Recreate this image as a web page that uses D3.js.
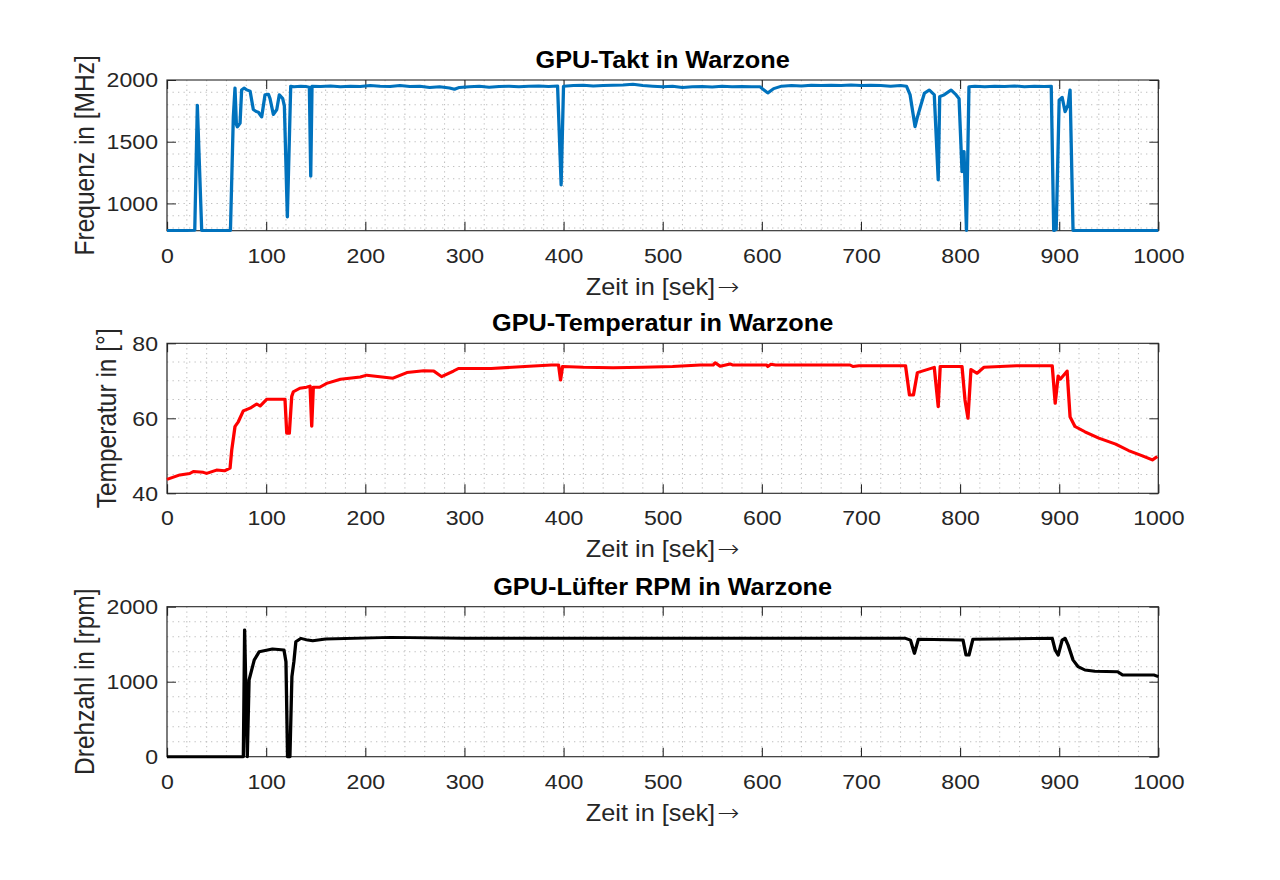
<!DOCTYPE html>
<html>
<head>
<meta charset="utf-8">
<script src="https://cdn.jsdelivr.net/npm/d3@7"></script>
<style>
  body { margin: 0; background: #fff; }
  svg { display: block; }
  text { font-family: "Liberation Sans", Arial, Helvetica, sans-serif; fill: #262626; }
</style>
</head>
<body>
<svg id="chart"></svg>
<script>
// GPU-Takt (MHz)
const taktTime = [0, 10, 20, 28, 30.6, 35, 45, 55, 64, 66.9, 68.6, 70, 71, 73.7, 75.3, 78, 80.4, 83.8, 87.1, 90, 92.1, 95.5, 98.9, 102.3, 103.9, 107.3, 110.7, 113.3, 116.7, 118.4, 121.4, 124.8, 128, 135, 140, 143.6, 145, 146.3, 155, 165, 175, 185, 195, 205, 215, 225, 235, 245, 255, 265, 275, 285, 290, 295, 305, 315, 325, 335, 345, 355, 365, 375, 385, 394, 397.6, 400, 410, 420, 430, 440, 450, 460, 470, 480, 490, 500, 510, 520, 530, 540, 550, 560, 570, 580, 590, 598, 606, 612, 620, 630, 640, 650, 660, 670, 680, 690, 700, 710, 720, 730, 740, 746, 749.6, 754.6, 757, 759.6, 761, 764, 769, 774, 778, 779.5, 784, 791, 796, 799, 802, 804, 806.5, 809, 815, 825, 835, 845, 855, 865, 875, 885, 892, 894.5, 897, 900, 903, 906, 909, 911, 914, 930, 950, 970, 990, 1000];
const taktMHz = [780, 781, 780, 782, 1795, 780, 781, 780, 781, 1700, 1935, 1640, 1620, 1650, 1920, 1935, 1920, 1910, 1760, 1745, 1740, 1700, 1880, 1885, 1850, 1720, 1760, 1880, 1850, 1790, 890, 1950, 1945, 1950, 1948, 1942, 1220, 1950, 1948, 1952, 1945, 1950, 1948, 1955, 1950, 1948, 1955, 1947, 1950, 1940, 1945, 1935, 1925, 1940, 1945, 1950, 1942, 1948, 1950, 1945, 1950, 1952, 1948, 1952, 1150, 1950, 1955, 1958, 1952, 1955, 1957, 1960, 1965, 1955, 1950, 1945, 1950, 1940, 1945, 1948, 1944, 1950, 1946, 1948, 1945, 1946, 1895, 1930, 1950, 1955, 1952, 1958, 1955, 1957, 1955, 1960, 1955, 1958, 1955, 1950, 1955, 1950, 1880, 1622, 1700, 1773, 1810, 1892, 1919, 1880, 1190, 1865, 1880, 1919, 1880, 1850, 1257, 1420, 780, 1946, 1950, 1945, 1950, 1948, 1952, 1946, 1950, 1948, 1950, 780, 790, 1838, 1860, 1743, 1800, 1919, 780, 780, 781, 780, 780, 780];

// GPU-Temperatur (°)
const tempTime = [0, 13, 23, 26.6, 36.6, 40, 50, 58, 63.6, 65.3, 68.6, 72, 77, 83.8, 90.5, 94, 100.6, 119, 120.8, 123.4, 125.8, 127.5, 134, 140.9, 144.3, 146, 147.6, 154, 161, 175, 195, 201.5, 228, 242, 259, 269, 277, 289, 294, 327, 361, 388, 395, 397, 399, 420, 450, 480, 510, 538, 551, 553, 558, 568, 571, 605, 606, 609, 614, 689, 692, 698, 745, 749, 753, 757, 774, 778, 780, 802, 805, 808, 811, 817, 824, 857, 893, 896, 899, 901, 908, 911, 916, 926, 940, 957, 970, 984, 994, 999];
const tempDeg = [43.7, 44.9, 45.3, 45.8, 45.6, 45.3, 46.2, 46.0, 46.7, 51.5, 57.8, 59.1, 62.0, 62.7, 63.8, 63.3, 65.1, 65.1, 56.0, 56.0, 65.8, 67.1, 68.0, 68.3, 68.6, 57.9, 68.3, 68.3, 69.3, 70.4, 71.0, 71.5, 70.7, 72.2, 72.7, 72.6, 71.1, 72.6, 73.3, 73.3, 73.8, 74.2, 74.2, 70.2, 73.8, 73.6, 73.5, 73.6, 73.8, 74.2, 74.2, 74.8, 73.9, 74.5, 74.2, 74.2, 73.8, 74.4, 74.2, 74.2, 73.8, 74.0, 74.0, 66.2, 66.2, 72.2, 73.6, 63.1, 73.8, 73.8, 64.9, 60.0, 73.0, 72.0, 73.6, 74.0, 74.0, 64.0, 71.3, 70.4, 72.6, 60.4, 57.8, 56.4, 54.7, 53.1, 51.4, 50.0, 48.9, 49.8];

// GPU-Lüfter (rpm)
const rpmTime = [0, 40, 77, 78.3, 81, 82.8, 88, 93, 106.4, 118, 120, 121.6, 124, 126, 128, 130, 135, 142, 147, 160, 226, 300, 394, 460, 538, 745, 750, 754, 758, 803, 806, 809, 813, 893, 896, 899, 903, 906, 909, 914, 919, 926, 936, 959, 964, 996, 1000];
const rpmVal = [0, 0, 0, 1689, 0, 1023, 1289, 1400, 1435, 1422, 1267, 0, 0, 1067, 1267, 1533, 1578, 1555, 1547, 1570, 1591, 1580, 1578, 1580, 1578, 1578, 1555, 1378, 1567, 1555, 1355, 1355, 1567, 1578, 1422, 1355, 1555, 1578, 1490, 1289, 1200, 1156, 1140, 1133, 1089, 1089, 1067];

const xTicks = [0, 100, 200, 300, 400, 500, 600, 700, 800, 900, 1000];
const taktTicks = [1000, 1500, 2000];
const tempTicks = [40, 60, 80];
const rpmTicks = [0, 1000, 2000];

const titles = ['GPU-Takt in Warzone', 'GPU-Temperatur in Warzone', 'GPU-Lüfter RPM in Warzone'];
const yLabels = ['Frequenz in [MHz]', 'Temperatur in [°]', 'Drehzahl in [rpm]'];
const xLabel = 'Zeit in [sek]';

// text in the picture is a little wider than it is tall, so draw in a narrower
// coordinate space and stretch it out to 1280 wide
const STRETCH = 1.1;
const W = 1280 / STRETCH, H = 880;
const svg = d3.select('#chart')
  .attr('width', 1280).attr('height', 880)
  .attr('viewBox', `0 0 ${W} ${H}`)
  .attr('preserveAspectRatio', 'none');

const left = 167 / STRETCH, right = 1158.3 / STRETCH;
const x = d3.scaleLinear().domain([0, 1000]).range([left, right]);

const panels = [
  { top: 80, bottom: 230.7, domain: [779, 2000], ticks: taktTicks, minor: 100, t: taktTime, v: taktMHz, color: '#0072BD', labelX: 85 },
  { top: 343.3, bottom: 493.3, domain: [40, 80], ticks: tempTicks, minor: 5, t: tempTime, v: tempDeg, color: '#FF0000', labelX: 105 },
  { top: 606.7, bottom: 756.7, domain: [0, 2000], ticks: rpmTicks, minor: 200, t: rpmTime, v: rpmVal, color: '#000000', labelX: 85 },
];

const tickLen = 9;

panels.forEach((p, i) => {
  const y = d3.scaleLinear().domain(p.domain).range([p.bottom, p.top]);
  const g = svg.append('g');

  // dotted grid (major + minor)
  const gx = d3.range(20, 1000, 20);
  const gy = d3.range(Math.ceil(p.domain[0] / p.minor) * p.minor, p.domain[1], p.minor)
    .filter(d => d > p.domain[0] && d < p.domain[1]);
  g.append('g').selectAll('line').data(gx).join('line')
    .attr('x1', d => x(d)).attr('x2', d => x(d))
    .attr('y1', p.top).attr('y2', p.bottom)
    .attr('stroke', '#bfbfbf').attr('stroke-width', 0.95)
    .attr('stroke-dasharray', '1.3,3.5');
  g.append('g').selectAll('line').data(gy).join('line')
    .attr('x1', left).attr('x2', right)
    .attr('y1', d => y(d)).attr('y2', d => y(d))
    .attr('stroke', '#bfbfbf').attr('stroke-width', 1)
    .attr('stroke-dasharray', '1.2,3.8');

  // axes, ticks pointing inward on all sides
  const fmt = d3.format('d');
  const axB = g.append('g').attr('transform', `translate(0,${p.bottom})`)
    .call(d3.axisBottom(x).tickValues(xTicks).tickFormat(fmt).tickSizeInner(-tickLen).tickSizeOuter(0).tickPadding(17));
  const axT = g.append('g').attr('transform', `translate(0,${p.top})`)
    .call(d3.axisTop(x).tickValues(xTicks).tickSizeInner(-tickLen).tickSizeOuter(0).tickFormat(''));
  const axL = g.append('g').attr('transform', `translate(${left},0)`)
    .call(d3.axisLeft(y).tickValues(p.ticks).tickFormat(fmt).tickSizeInner(-tickLen / STRETCH).tickSizeOuter(0).tickPadding(8.2));
  const axR = g.append('g').attr('transform', `translate(${right},0)`)
    .call(d3.axisRight(y).tickValues(p.ticks).tickSizeInner(-tickLen / STRETCH).tickSizeOuter(0).tickFormat(''));
  [axB, axT, axL, axR].forEach(a => {
    a.attr('font-family', null).attr('font-size', 21);
    a.select('.domain').remove();
    a.selectAll('.tick line').attr('stroke', '#262626').attr('stroke-width', 1);
    a.selectAll('.tick text').attr('fill', '#262626');
  });

  g.append('rect')
    .attr('x', left).attr('y', p.top)
    .attr('width', right - left).attr('height', p.bottom - p.top)
    .attr('fill', 'none').attr('stroke', '#262626').attr('stroke-width', 1.1);

  // data line
  const pts = p.t.map((t, k) => [t, p.v[k]]);
  g.append('path').datum(pts)
    .attr('d', d3.line().x(d => x(d[0])).y(d => y(d[1])))
    .attr('fill', 'none').attr('stroke', p.color)
    .attr('stroke-width', 3).attr('stroke-linejoin', 'round');

  // texts
  g.append('text')
    .attr('x', (left + right) / 2).attr('y', p.top - 12)
    .attr('text-anchor', 'middle').attr('font-size', 23).attr('font-weight', 'bold')
    .style('fill', '#000')
    .text(titles[i]);
  const xl = g.append('text')
    .attr('x', (left + right) / 2).attr('y', p.bottom + 64)
    .attr('text-anchor', 'middle').attr('font-size', 23);
  xl.append('tspan').text(xLabel);
  xl.append('tspan').attr('dx', 2)
    .style('font-family', '"DejaVu Sans", sans-serif').style('font-weight', 200)
    .attr('font-size', 24)
    .text('\u2192');
  g.append('text')
    .attr('transform', `translate(${p.labelX},${(p.top + p.bottom) / 2}) rotate(-90)`)
    .attr('text-anchor', 'middle').attr('font-size', 24.5)
    .text(yLabels[i]);
});
</script>
</body>
</html>
